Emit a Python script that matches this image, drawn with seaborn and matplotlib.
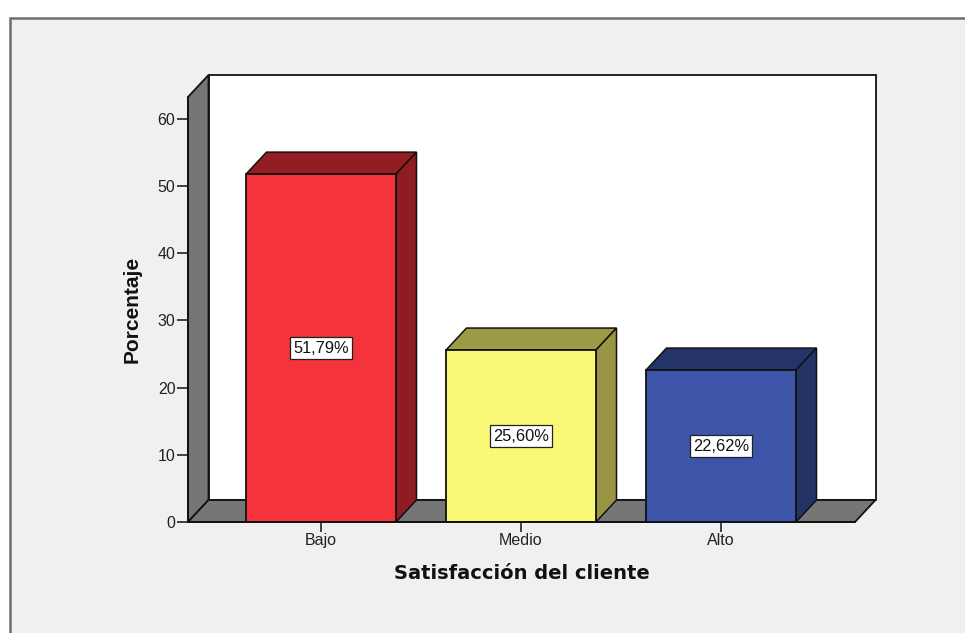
import matplotlib
matplotlib.use("Agg")
import matplotlib.pyplot as plt
import seaborn as sns
import pandas as pd
from matplotlib.patches import Polygon, Rectangle

categories = ["Bajo", "Medio", "Alto"]
values = [51.79, 25.60, 22.62]
value_labels = ["51,79%", "25,60%", "22,62%"]
y_ticks = [0, 10, 20, 30, 40, 50, 60]
front_colors = ["#F4333B", "#FBF875", "#3C55A8"]
top_colors = ["#931D23", "#9C9A46", "#243468"]
side_colors = ["#8E1C21", "#989644", "#233363"]
WALL = "#767676"
EDGE = "#111111"

sns.set_theme(style="white")
plt.rcParams["font.family"] = ["Liberation Sans", "DejaVu Sans"]

W, H = 965, 633
fig = plt.figure(figsize=(W / 100, H / 100), dpi=100, facecolor="white")

# outer panel
fig.add_artist(Rectangle((10 / W, -0.01), (W + 20) / W, 1 - 17.5 / H + 0.01, transform=fig.transFigure,
                         facecolor="#F0F0F0", edgecolor="#6E6E6E", linewidth=1.8, zorder=-1))

ax = fig.add_axes([188 / W, (H - 522) / H, 667 / W, 425 / H])
ax.patch.set_visible(False)

df = pd.DataFrame({"cat": categories, "val": values})
sns.barplot(data=df, x="cat", y="val", hue="cat", order=categories, hue_order=categories,
            palette=front_colors, width=0.75, saturation=1, legend=False, ax=ax,
            edgecolor=EDGE, linewidth=1.3, zorder=5)

px_x = 200.0
px_y = 6.717
ax.set_xlim(-133 / px_x, -133 / px_x + 667 / px_x)
ax.set_ylim(0, 425 / px_y)
dx, dy = 20.5 / px_x, 22 / px_y
x0, x1 = ax.get_xlim()
ytop = ax.get_ylim()[1]

# 3D box: white back wall, grey side wall and floor
ax.add_patch(Polygon([(x0 + dx, dy), (x1 + dx, dy), (x1 + dx, ytop + dy), (x0 + dx, ytop + dy)],
                     facecolor="white", edgecolor=EDGE, linewidth=1.3, clip_on=False, zorder=1))
ax.add_patch(Polygon([(x0, 0), (x0 + dx, dy), (x0 + dx, ytop + dy), (x0, ytop)],
                     facecolor=WALL, edgecolor=EDGE, linewidth=1.3, clip_on=False, zorder=2))
ax.add_patch(Polygon([(x0, 0), (x1, 0), (x1 + dx, dy), (x0 + dx, dy)],
                     facecolor=WALL, edgecolor=EDGE, linewidth=1.3, clip_on=False, zorder=2))

# 3D bar faces
hw = 0.375
for i, v in enumerate(values):
    ax.add_patch(Polygon([(i - hw, v), (i + hw, v), (i + hw + dx, v + dy), (i - hw + dx, v + dy)],
                         facecolor=top_colors[i], edgecolor=EDGE, linewidth=1.1, clip_on=False, zorder=4))
    ax.add_patch(Polygon([(i + hw, 0), (i + hw + dx, dy), (i + hw + dx, v + dy), (i + hw, v)],
                         facecolor=side_colors[i], edgecolor=EDGE, linewidth=1.1, clip_on=False, zorder=4))
    ax.text(i, v / 2, value_labels[i], ha="center", va="center", fontsize=11.8, color="#111111", zorder=7,
            bbox=dict(boxstyle="square,pad=0.2", facecolor="white", edgecolor="#222222", linewidth=0.9))

for s in ["top", "right"]:
    ax.spines[s].set_visible(False)
for s in ["left", "bottom"]:
    ax.spines[s].set_visible(True)
    ax.spines[s].set_color(EDGE)
    ax.spines[s].set_linewidth(1.3)
    ax.spines[s].set_zorder(6)

ax.set_yticks(y_ticks)
ax.set_xticks(range(len(categories)))
ax.set_xticklabels(categories)
ax.tick_params(axis="y", length=8, width=1.1, color=EDGE, labelcolor="#222222", labelsize=11.5, left=True, pad=1)
ax.tick_params(axis="x", length=7, width=1.1, color=EDGE, labelcolor="#222222", labelsize=11.5, bottom=True, pad=1)
ax.set_xlabel("Satisfacción del cliente", fontsize=14, fontweight="bold", color="#111111", labelpad=11.5,
              family=["DejaVu Sans"])
ax.set_ylabel("Porcentaje", fontsize=15, fontweight="bold", color="#111111", labelpad=11.5,
              family=["Liberation Sans"])

fig.savefig("out.png", dpi=100, facecolor="white")
